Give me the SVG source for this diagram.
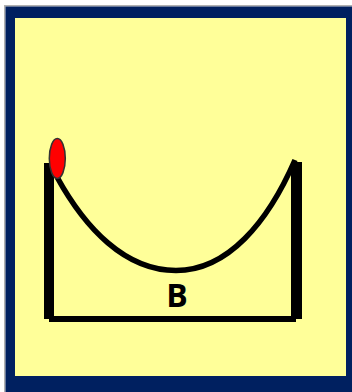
<svg xmlns="http://www.w3.org/2000/svg" width="352" height="392" viewBox="0 0 352 392">
<style>
.post{fill:#000}
.curve{fill:none;stroke:#000;stroke-width:5.500}
.label{font-family:"Open Sans","Liberation Sans",sans-serif;font-weight:700;font-size:32px;fill:#000;text-anchor:middle}
</style>
<rect width="352" height="392" fill="#fff"/>
<rect x="4" y="5" width="1.5" height="387" fill="#b0b0b0"/>
<rect x="4" y="5" width="348" height="1.500" fill="#b0b0b0"/>
<g id="panel"><rect x="5.500" y="6.500" width="346.500" height="385.500" fill="#002060"/><rect x="15" y="18" width="331" height="358" fill="#ffff99"/></g>
<g id="container">
<rect class="post" x="44" y="163" width="10" height="156"/>
<rect class="post" x="291" y="162" width="11" height="157"/>
<rect class="post" x="49" y="316" width="247" height="6"/>
</g>
<g id="connectors"><path class="curve" d="M57 177C85 228 125 270.500 176 270.500C228 270.500 268 222 295 160"/></g>
<g id="ball"><ellipse cx="57.300" cy="158.500" rx="8" ry="20" fill="#ff0000" stroke="#333" stroke-width="1.500"/></g>
<g id="label"><text class="label" x="177" y="307">B</text></g>
</svg>
